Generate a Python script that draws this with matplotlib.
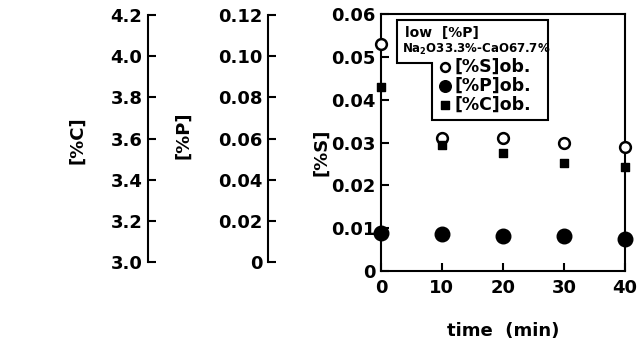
import matplotlib.pyplot as plt
from matplotlib.patches import Polygon
from matplotlib.ticker import FuncFormatter, FormatStrFormatter

time_min = [0, 10, 20, 30, 40]
s_obs = [0.053, 0.031, 0.031, 0.030, 0.029]
p_obs = [0.0141, 0.0136, 0.0126, 0.0126, 0.0112]
c_obs = [3.85, 3.57, 3.53, 3.48, 3.46]

x_ticks = [0, 10, 20, 30, 40]
s_ticks = [0, 0.01, 0.02, 0.03, 0.04, 0.05, 0.06]
p_ticks = [0, 0.02, 0.04, 0.06, 0.08, 0.10, 0.12]
c_ticks = [3.0, 3.2, 3.4, 3.6, 3.8, 4.0, 4.2]

plt.rcParams['font.family'] = 'DejaVu Sans'
plt.rcParams['font.weight'] = 'bold'
FS = 13
LW = 1.5

def zero_fmt(v, pos):
    return "0" if abs(v) < 1e-12 else "%.2f" % v

fig = plt.figure(figsize=(6.37, 3.43), dpi=100)

# main axes ([%S] vs time)
ax = fig.add_axes([0.598, 0.210, 0.383, 0.749])
ax.set_xlim(0, 40)
ax.set_ylim(0, 0.06)
ax.set_xticks(x_ticks)
ax.set_yticks(s_ticks)
ax.yaxis.set_major_formatter(FuncFormatter(zero_fmt))
ax.tick_params(direction='in', length=6, width=LW, labelsize=FS, pad=4)
ax.tick_params(axis='x', pad=6)
for sp in ax.spines.values():
    sp.set_linewidth(LW)
ax.set_xlabel("time  (min)", fontsize=FS, fontweight='bold', labelpad=18)

# side axes for [%C] and [%P]
def side_axis(xpos, lo, hi, ticks, fmt):
    a = fig.add_axes([xpos, 0.236, 0.001, 0.720])
    a.set_ylim(lo, hi)
    a.set_yticks(ticks)
    a.yaxis.set_major_formatter(fmt)
    a.set_xticks([])
    for k in ['top', 'right', 'bottom']:
        a.spines[k].set_visible(False)
    a.spines['left'].set_linewidth(LW)
    a.tick_params(axis='y', direction='in', length=6, width=LW, labelsize=FS, pad=4)
    a.patch.set_visible(False)
    return a

axc = side_axis(0.2323, 3.0, 4.2, c_ticks, FormatStrFormatter('%.1f'))
axp = side_axis(0.4207, 0.0, 0.12, p_ticks, FuncFormatter(zero_fmt))

fig.text(0.122, 0.592, "[%C]", rotation=90, fontsize=FS, fontweight='bold', ha='center', va='center')
fig.text(0.287, 0.606, "[%P]", rotation=90, fontsize=FS, fontweight='bold', ha='center', va='center')
fig.text(0.505, 0.556, "[%S]", rotation=90, fontsize=FS, fontweight='bold', ha='center', va='center')

# overlay axes for C and P data, same vertical extent as the side axes
def overlay(lo, hi):
    o = fig.add_axes([0.598, 0.236, 0.383, 0.720])
    o.set_xlim(0, 40)
    o.set_ylim(lo, hi)
    o.axis('off')
    return o

ovc = overlay(3.0, 4.2)
ovp = overlay(0.0, 0.12)

hs = ax.scatter(time_min, s_obs, s=60, facecolors='white', edgecolors='black',
                linewidths=1.8, clip_on=False, zorder=5, label="[%S]ob.")
hp = ovp.scatter(time_min, p_obs, s=110, color='black', clip_on=False, zorder=5, label="[%P]ob.")
hc = ovc.scatter(time_min, c_obs, s=38, marker='s', color='black', clip_on=False, zorder=5, label="[%C]ob.")

# legend box
box = Polygon([(0.0656, 0.977), (0.684, 0.977), (0.684, 0.588), (0.209, 0.588),
               (0.209, 0.809), (0.0656, 0.809)], closed=True, fill=True,
              facecolor='white', edgecolor='black', linewidth=LW,
              transform=ax.transAxes, zorder=6)
ax.add_patch(box)
ax.text(0.10, 0.925, "low  [%P]", transform=ax.transAxes, fontsize=10,
        fontweight='bold', va='center', zorder=7)
ax.text(0.085, 0.862, r"Na$_\mathbf{2}$O33.3%-CaO67.7%", transform=ax.transAxes,
        fontsize=8.5, fontweight='bold', va='center', zorder=7)
leg = ax.legend(handles=[hs, hp, hc], loc='upper left', bbox_to_anchor=(0.235, 0.83),
                frameon=False, fontsize=12.5, handletextpad=0.15, borderaxespad=0,
                labelspacing=0.05, handlelength=0.8, borderpad=0)
leg.set_zorder(8)
for h, sz in zip(leg.legend_handles, [40, 70, 28]):
    h.set_sizes([sz])
for t in leg.get_texts():
    t.set_fontweight('bold')

fig.savefig("out.png", dpi=100)
